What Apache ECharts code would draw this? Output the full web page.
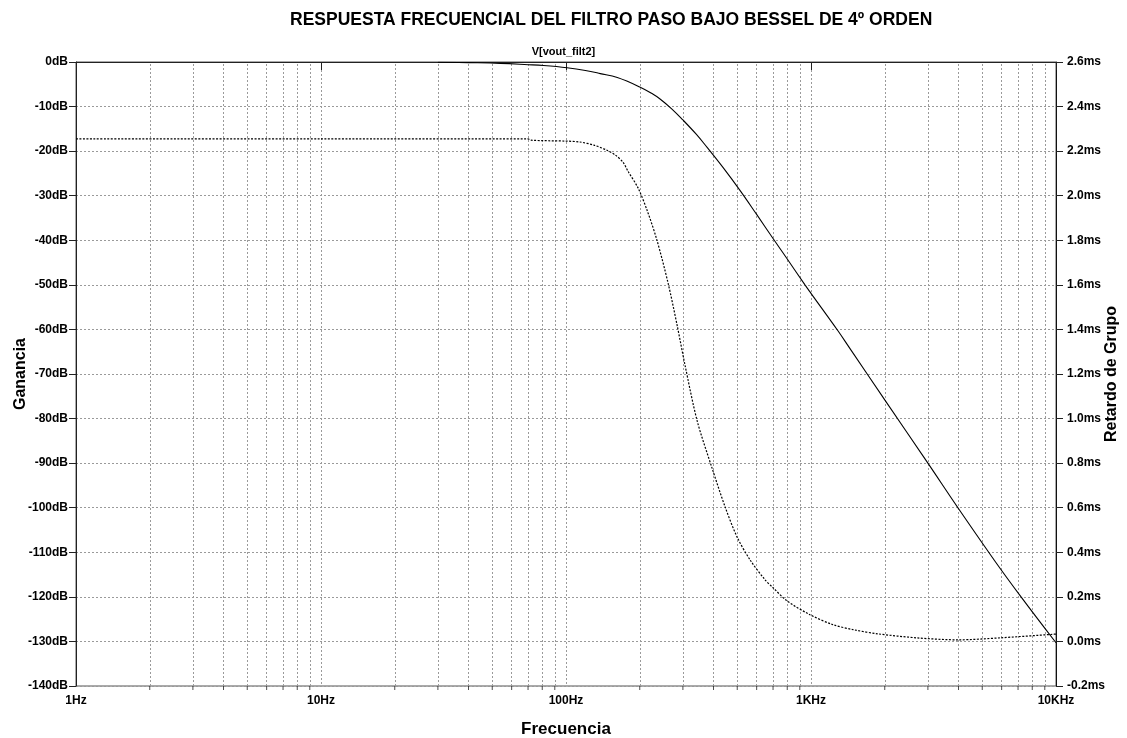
<!DOCTYPE html>
<html>
<head>
<meta charset="utf-8">
<script src="https://cdn.jsdelivr.net/npm/echarts@6/dist/echarts.min.js"></script>
<style>
html,body{margin:0;padding:0;background:#fff;}
#c{width:1127px;height:738px;}
</style>
</head>
<body>
<div id="c"></div>
<script>
// ---- data ----
const titleText = 'RESPUESTA FRECUENCIAL DEL FILTRO PASO BAJO BESSEL DE 4º ORDEN';
const traceName = 'V[vout_filt2]';
// gain (dB) vs frequency (Hz)
const gainFreq = [30, 40, 54, 70, 81, 101, 120, 138, 162, 200, 226, 242, 270, 300, 340, 376, 438, 513, 600, 700, 800, 945, 1000, 1288, 1443, 2000, 3000, 4000, 5637, 7200, 10000];
const gainDb   = [-0.05, -0.15, -0.3, -0.6, -0.8, -1.3, -1.9, -2.6, -3.5, -5.6, -7.2, -8.3, -10.5, -13.0, -16.2, -19.1, -23.7, -28.8, -34.2, -39.6, -44.2, -50.0, -51.9, -60.3, -64.3, -75.8, -90.0, -100.2, -112.0, -120.0, -130.3];
// group delay (ms) vs frequency (Hz)
const delayFreq = [1, 10, 70, 72, 100, 114, 130, 147, 160, 171, 179, 197, 215, 235, 261, 284, 306, 343, 394, 446, 499, 564, 649, 700, 798, 990, 1230, 1500, 1876, 2711, 3985, 5900, 9725, 10000];
const delayMs   = [2.255, 2.255, 2.255, 2.249, 2.245, 2.241, 2.227, 2.204, 2.18, 2.15, 2.11, 2.034, 1.93, 1.801, 1.608, 1.42, 1.24, 0.99, 0.78, 0.604, 0.469, 0.366, 0.277, 0.241, 0.182, 0.120, 0.075, 0.052, 0.034, 0.016, 0.007, 0.016, 0.032, 0.033];
// frequency axis ticks
const majorFreqs = [1, 10, 100, 1000, 10000];
const majorFreqLabels = ['1Hz', '10Hz', '100Hz', '1KHz', '10KHz'];
const minorFreqs = [2,3,4,5,6,7,8,9, 20,30,40,50,60,70,80,90, 200,300,400,500,600,700,800,900, 2000,3000,4000,5000,6000,7000,8000,9000];

const FONT = '"Liberation Sans", Arial, sans-serif';
const gridColor = '#9a9a9a';
const gridDash = [2, 2];

const chart = echarts.init(document.getElementById('c'), null, {renderer: 'canvas'});
const option = {
  animation: false,
  backgroundColor: '#fff',
  title: [
    {text: titleText, left: 285, top: 6, textStyle: {fontFamily: FONT, fontSize: 17.5, fontWeight: 'bold', color: '#000'}},
    {text: traceName, left: 'center', top: 41, textStyle: {fontFamily: FONT, fontSize: 11, fontWeight: 'bold', color: '#000'}}
  ],
  grid: {left: 76, right: 71, top: 62, bottom: 52, show: true, borderColor: '#555', borderWidth: 1,
         containLabel: false, outerBoundsMode: 'none'},
  xAxis: {
    type: 'log', logBase: 10, min: 1, max: 10000,
    name: 'Frecuencia', nameLocation: 'middle', nameGap: 35, nameMoveOverlap: false,
    nameTextStyle: {fontFamily: FONT, fontSize: 17, fontWeight: 'bold', color: '#000'},
    axisLine: {show: true, lineStyle: {color: '#222', width: 1}},
    axisTick: {show: true, length: 8, lineStyle: {color: '#222'}},
    axisLabel: {fontFamily: FONT, fontSize: 12, fontWeight: 'bold', color: '#000', margin: 9,
      formatter: function (v) { const i = majorFreqs.indexOf(Math.round(v)); return i >= 0 ? majorFreqLabels[i] : ''; }},
    splitLine: {show: true, lineStyle: {color: gridColor, type: gridDash, width: 1}},
    minorTick: {show: false}
  },
  yAxis: [
    {
      type: 'value', min: -140, max: 0, interval: 10, position: 'left',
      name: 'Ganancia', nameLocation: 'middle', nameGap: 47, nameMoveOverlap: false,
      nameTextStyle: {fontFamily: FONT, fontSize: 16, fontWeight: 'bold', color: '#000'},
      axisLine: {show: true, lineStyle: {color: '#222'}},
      axisTick: {show: true, length: 7, lineStyle: {color: '#222'}},
      axisLabel: {fontFamily: FONT, fontSize: 12, fontWeight: 'bold', color: '#000', margin: 8, formatter: '{value}dB'},
      splitLine: {show: true, lineStyle: {color: gridColor, type: gridDash, width: 1}}
    },
    {
      type: 'value', min: -0.2, max: 2.6, interval: 0.2, position: 'right',
      name: 'Retardo de Grupo', nameLocation: 'middle', nameGap: 48, nameMoveOverlap: false,
      nameTextStyle: {fontFamily: FONT, fontSize: 16, fontWeight: 'bold', color: '#000'},
      axisLine: {show: true, lineStyle: {color: '#111'}},
      axisTick: {show: true, length: 7, lineStyle: {color: '#222'}},
      axisLabel: {fontFamily: FONT, fontSize: 12, fontWeight: 'bold', color: '#000', margin: 11,
        formatter: function (v) { if (Math.abs(v) < 1e-9) v = 0; return v.toFixed(1) + 'ms'; }},
      splitLine: {show: false}
    }
  ],
  series: [
    {
      name: 'gain', type: 'line', xAxisIndex: 0, yAxisIndex: 0,
      data: gainFreq.map((f, i) => [f, gainDb[i]]),
      showSymbol: false, smooth: 0.4,
      lineStyle: {color: '#000', width: 1.1},
      z: 5,
      markLine: {
        silent: true, symbol: ['none', 'none'], label: {show: false},
        lineStyle: {color: gridColor, type: gridDash, width: 1},
        data: minorFreqs.map(f => ({xAxis: f})),
        z: 1, animation: false
      }
    },
    {
      name: 'delay', type: 'line', xAxisIndex: 0, yAxisIndex: 1,
      data: delayFreq.map((f, i) => [f, delayMs[i]]),
      showSymbol: false, smooth: 0.3,
      lineStyle: {color: '#000', width: 1.2, type: [2, 1.5]},
      z: 5
    },
    {
      name: 'minorTicks', type: 'scatter', xAxisIndex: 0, yAxisIndex: 0,
      data: minorFreqs.map(f => [f, -140]),
      symbol: 'rect', symbolSize: [1, 4], symbolOffset: [0, 2],
      itemStyle: {color: '#222'}, clip: false, silent: true, z: 6
    }
  ]
};
chart.setOption(option);
</script>
</body>
</html>
